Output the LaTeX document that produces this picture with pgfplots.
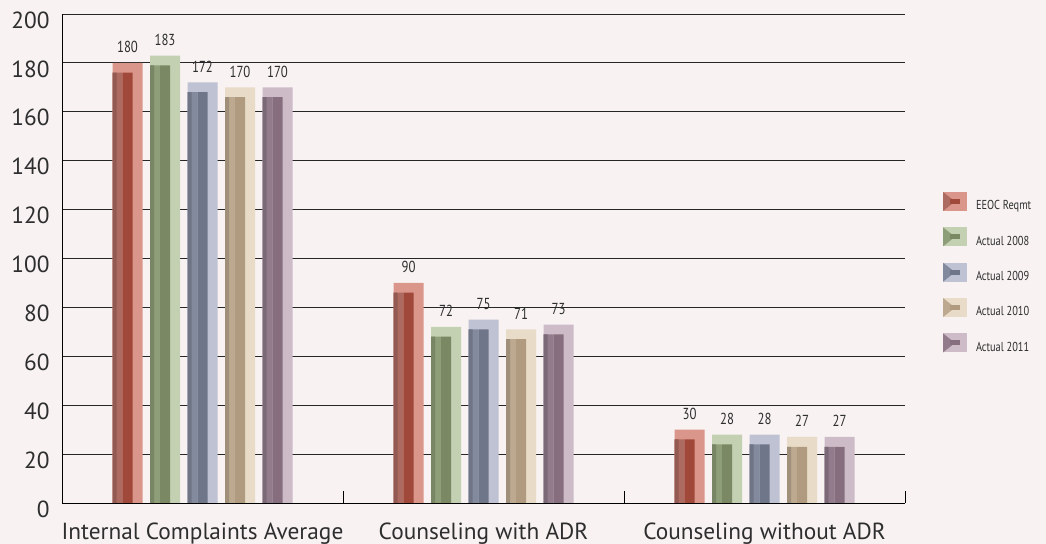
\documentclass[border=0pt]{standalone}
\usepackage{fontspec}
\setmainfont{PT Sans}
\newfontfamily\condfont[FakeStretch=0.8]{PT Sans}
\usepackage{pgfplots}
\pgfplotsset{compat=1.18}
\usepackage{pgfplotstable}

\definecolor{bgcol}{HTML}{F8F2F2}
\definecolor{txt}{HTML}{2E2E2E}
% light / mid / dark shades of each bevelled bar
\definecolor{rL}{HTML}{DA968A}\definecolor{rM}{HTML}{AC6A60}\definecolor{rD}{HTML}{A0483A}
\definecolor{gL}{HTML}{C3D0B2}\definecolor{gM}{HTML}{8E9E78}\definecolor{gD}{HTML}{7A8964}
\definecolor{bL}{HTML}{BEC2D2}\definecolor{bM}{HTML}{848A9E}\definecolor{bD}{HTML}{70768A}
\definecolor{tL}{HTML}{E8DCC8}\definecolor{tM}{HTML}{BCA990}\definecolor{tD}{HTML}{B09A80}
\definecolor{mL}{HTML}{CDBCC8}\definecolor{mM}{HTML}{927C8C}\definecolor{mD}{HTML}{866E7E}

\pgfplotstableread{
x eeoc a08 a09 a10 a11
0 180  183 172 170 170
1 90   72  75  71  73
2 30   28  28  27  27
}\data

% #1 column, #2 bar shift, #3 left strip shift, #4 light, #5 mid, #6 dark, #7 outer edge shift
\newcommand{\bevelbar}[7]{%
  \addplot[ybar, bar width=30bp, bar shift=#2, fill=#4, draw=none,
    nodes near coords,
    nodes near coords style={font=\condfont\fontsize{16}{16}\selectfont, text=txt,
      xshift=#2, yshift=6.5bp},
    legend image code/.code={%
      \fill[#4] (0bp,-5bp) rectangle (24bp,14bp);
      \fill[#5] (0bp,-5bp) -- (12bp,4.5bp) -- (0bp,14bp) -- cycle;
      \fill[#6] (7bp,2bp) rectangle (17bp,7bp);
      \path (33bp,0bp);}]
    table[x=x, y=#1] {\data};
  \addplot[ybar, bar width=10bp, bar shift=#3, fill=#5, draw=none, forget plot]
    table[x=x, y expr=\thisrow{#1}-4] {\data};
  \addplot[ybar, bar width=4bp, bar shift=#7, fill=#5!85!black, draw=none, forget plot]
    table[x=x, y expr=\thisrow{#1}-4] {\data};
  \addplot[ybar, bar width=10bp, bar shift=#2, fill=#6, draw=none, forget plot]
    table[x=x, y expr=\thisrow{#1}-4] {\data};
}

\begin{document}
\begin{tikzpicture}
\fill[bgcol] (0,0) rectangle (1046bp,544bp);
\useasboundingbox (0,0) rectangle (1046bp,544bp);
\begin{axis}[
  at={(62bp,41bp)}, anchor=south west,
  scale only axis, width=843bp, height=489bp,
  xmin=-0.5, xmax=2.5, ymin=0, ymax=200,
  ytick={0,20,...,200},
  ymajorgrids, grid style={black!85, line width=0.9bp},
  xtick={0,1,2},
  xticklabels={Internal Complaints Average, Counseling with ADR, Counseling without ADR},
  minor xtick={-0.5,0.5,1.5,2.5},
  axis x line*=bottom, axis y line*=left,
  axis line style={black, line width=1bp, -},
  major x tick style={draw=none}, ytick style={draw=none},
  minor x tick style={black, line width=1bp}, minor tick length=12bp,
  tick align=inside,
  ticklabel style={font=\fontsize{23.4}{23.4}\selectfont, text=txt},
  xticklabel style={yshift=-16bp},
  yticklabel style={yshift=-6bp, xshift=-9bp},
  /pgf/number format/assume math mode=true,
  legend cell align=left,
  legend style={at={(1.0451,0.636)}, anchor=north west, draw=none, fill=none,
    inner sep=0pt, outer sep=0pt, row sep=16bp,
    font=\condfont\fontsize{13}{13}\selectfont, text=txt,
    nodes={inner sep=0pt}},
]
\bevelbar{eeoc}{-75bp}{-85bp}{rL}{rM}{rD}{-88bp}
\bevelbar{a08}{-37.5bp}{-47.5bp}{gL}{gM}{gD}{-50.5bp}
\bevelbar{a09}{0bp}{-10bp}{bL}{bM}{bD}{-13bp}
\bevelbar{a10}{37.5bp}{27.5bp}{tL}{tM}{tD}{24.5bp}
\bevelbar{a11}{75bp}{65bp}{mL}{mM}{mD}{62bp}
\legend{EEOC Reqmt, Actual 2008, Actual 2009, Actual 2010, Actual 2011}
\end{axis}
\end{tikzpicture}
\end{document}
